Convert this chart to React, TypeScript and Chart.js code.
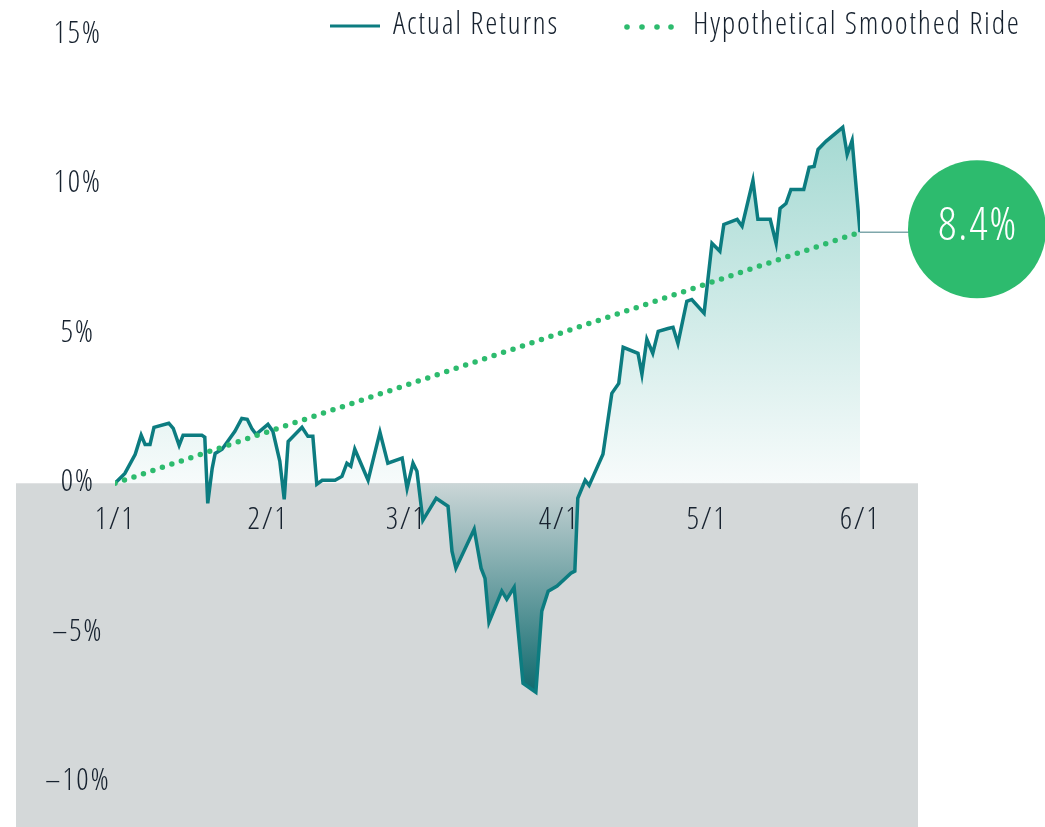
import React, { useEffect, useRef } from "react";
import { Chart, registerables } from "chart.js";

Chart.register(...registerables);

// ---- data ----
const DAYS = [
  0, 2.0, 4.1, 5.3, 6.1, 7.1, 7.9, 10.9, 11.8, 13.0, 13.8, 17.6, 18.2, 18.8, 19.7, 20.3, 21.7, 24.3,
  25.7, 26.8, 27.8, 28.6, 31.0, 32.0, 33.4, 34.3, 35.1, 37.9, 39.1, 40.1, 40.9, 42.0, 44.6, 46.0,
  47.0, 47.8, 48.6, 51.3, 53.7, 55.3, 58.2, 59.2, 60.4, 61.2, 62.4, 65.1, 67.5, 68.3, 69.1, 72.8,
  74.2, 75.0, 75.8, 78.4, 79.4, 80.9, 82.7, 85.3, 86.5, 87.8, 89.6, 92.4, 93.2, 93.8, 95.3, 96.1,
  98.9, 100.7, 102.1, 103.0, 106.0, 106.8, 107.8, 109.0, 110.1, 112.1, 113.1, 114.1, 115.9, 116.9,
  119.4, 121.0, 122.6, 123.4, 126.1, 127.1, 129.3, 130.3, 132.8, 134.0, 134.8, 136.0, 137.0, 139.6,
  140.7, 141.7, 142.5, 144.1, 147.5, 148.4, 149.4, 151,
];
const RETURNS = [
  0, 0.33, 0.97, 1.61, 1.3, 1.3, 1.87, 2.01, 1.84, 1.27, 1.61, 1.61, 1.54, -0.67, 0.5, 1.0, 1.14, 1.74,
  2.17, 2.14, 1.81, 1.64, 1.97, 1.74, 0.74, -0.54, 1.4, 1.87, 1.57, 1.57, -0.03, 0.1, 0.1, 0.23,
  0.67, 0.57, 1.14, 0.1, 1.71, 0.67, 0.84, -0.17, 0.67, 0.4, -1.24, -0.5, -0.77, -2.27, -2.84, -1.54,
  -2.84, -3.18, -4.65, -3.61, -3.88, -3.48, -6.69, -6.99, -4.28, -3.61, -3.44, -3.01, -2.94, -0.5, 0.1, -0.07,
  0.97, 3.01, 3.34, 4.55, 4.35, 3.65, 4.82, 4.35, 5.08, 5.18, 5.22, 4.68, 6.09, 6.15,
  5.69, 8.03, 7.76, 8.66, 8.83, 8.6, 10.13, 8.83, 8.83, 8.03, 9.2, 9.36, 9.83, 9.83,
  10.57, 10.6, 11.17, 11.44, 11.91, 11.0, 11.47, 8.4,
];
const SMOOTH_DAYS = [0, 151];
const SMOOTH_RETURNS = [0, 8.4];
const TICK_DAYS = [0, 31, 59, 90, 120, 151];
const TICK_LABELS = ["1/1", "2/1", "3/1", "4/1", "5/1", "6/1"];
const Y_TICKS = [-10, -5, 0, 5, 10, 15];
const SERIES_LABELS = ["Actual Returns", "Hypothetical Smoothed Ride"];
const END_LABEL = "8.4%";

// ---- styles ----
const FAMILY = "'Open Sans Condensed Light', 'Open Sans Condensed', 'Open Sans', sans-serif";
const WEIGHT = "condensed 300";
const TEXT = "#17222f";
const TEAL = "#0c7c80";
const GREEN = "#2dbb6e";
const GRAY_BG = "#d4d8d9";
const SPACING = "1.7px";

const overlayPlugin = {
  id: "overlay",
  beforeDraw(chart: any) {
    const { ctx, chartArea, scales } = chart;
    const y0 = scales.y.getPixelForValue(0);
    ctx.save();
    ctx.fillStyle = GRAY_BG;
    ctx.fillRect(16, y0, chartArea.right + 58 - 16, chartArea.bottom - y0 + 2);
    ctx.restore();
    (ctx as any).letterSpacing = SPACING;
  },
  afterDraw(chart: any) {
    const { ctx, chartArea, scales } = chart;
    const lastX = scales.x.getPixelForValue(SMOOTH_DAYS[SMOOTH_DAYS.length - 1]);
    const lastY = scales.y.getPixelForValue(SMOOTH_RETURNS[SMOOTH_RETURNS.length - 1]);
    const cx = chartArea.right + 117;
    const r = 69;
    ctx.save();
    (ctx as any).letterSpacing = SPACING;
    ctx.strokeStyle = "#7fa7ab";
    ctx.lineWidth = 1.5;
    ctx.beginPath();
    ctx.moveTo(lastX, lastY);
    ctx.lineTo(cx - r + 2, lastY);
    ctx.stroke();
    ctx.fillStyle = GREEN;
    ctx.beginPath();
    ctx.arc(cx, lastY - 3, r, 0, Math.PI * 2);
    ctx.fill();
    ctx.fillStyle = "#ffffff";
    ctx.font = `${WEIGHT} 46px ${FAMILY}`;
    ctx.textAlign = "center";
    ctx.textBaseline = "middle";
    ctx.fillText(END_LABEL, cx + 1, lastY - 4);

    const ly = 26;
    ctx.strokeStyle = TEAL;
    ctx.lineWidth = 3;
    ctx.lineCap = "butt";
    ctx.beginPath();
    ctx.moveTo(330, ly);
    ctx.lineTo(380, ly);
    ctx.stroke();
    ctx.fillStyle = GREEN;
    [627, 642, 657, 671].forEach((x) => {
      ctx.beginPath();
      ctx.arc(x, ly + 1, 2.8, 0, Math.PI * 2);
      ctx.fill();
    });
    ctx.fillStyle = TEXT;
    ctx.font = `${WEIGHT} 31px ${FAMILY}`;
    ctx.textAlign = "left";
    ctx.textBaseline = "middle";
    ctx.fillText(SERIES_LABELS[0], 393, ly);
    ctx.fillText(SERIES_LABELS[1], 693, ly);
    ctx.restore();
  },
};

let gradCache: any = null;
function areaFill(context: any) {
  const chart = context.chart;
  const { chartArea, scales } = chart;
  if (!chartArea || !scales.y) return "rgba(160,210,205,0.4)";
  const top = scales.y.getPixelForValue(12);
  const bottom = scales.y.getPixelForValue(-7);
  const zero = scales.y.getPixelForValue(0);
  const key = `${top}-${bottom}`;
  if (gradCache && gradCache.key === key) return gradCache.g;
  const g = chart.ctx.createLinearGradient(0, top, 0, bottom);
  const z = (zero - top) / (bottom - top);
  g.addColorStop(0, "#a4d9d2");
  g.addColorStop(z, "#f7fbfb");
  g.addColorStop(Math.min(1, z + 0.0001), "#cbd6d7");
  g.addColorStop(1, "#0f6a6e");
  gradCache = { key, g };
  return g;
}

export default function App() {
  const canvasRef = useRef<HTMLCanvasElement | null>(null);

  useEffect(() => {
    if (!canvasRef.current) return;
    const chart = new Chart(canvasRef.current, {
      type: "line",
      data: {
        datasets: [
          {
            label: SERIES_LABELS[1],
            data: SMOOTH_DAYS.map((d, i) => ({ x: d, y: SMOOTH_RETURNS[i] })),
            borderColor: GREEN,
            borderWidth: 5.5,
            borderDash: [0, 10],
            borderCapStyle: "round",
            pointRadius: 0,
            fill: false,
            order: 0,
          },
          {
            label: SERIES_LABELS[0],
            data: DAYS.map((d, i) => ({ x: d, y: RETURNS[i] })),
            borderColor: TEAL,
            borderWidth: 3.5,
            borderJoinStyle: "miter",
            pointRadius: 0,
            tension: 0,
            fill: { target: { value: 0 } },
            backgroundColor: areaFill,
            order: 1,
          },
        ],
      },
      options: {
        animation: false,
        responsive: true,
        maintainAspectRatio: false,
        layout: { padding: { top: 20, right: 185, bottom: 0, left: 0 } },
        plugins: { legend: { display: false }, tooltip: { enabled: false } },
        scales: {
          x: {
            type: "linear",
            min: 0,
            max: 151,
            position: { y: 0 } as any,
            grid: { display: false },
            border: { display: false },
            afterBuildTicks: (s: any) => {
              s.ticks = TICK_DAYS.map((v) => ({ value: v }));
            },
            ticks: {
              z: 1,
              autoSkip: false,
              maxRotation: 0,
              padding: 11,
              color: TEXT,
              font: { family: FAMILY, size: 31, weight: WEIGHT as any },
              callback: (v: any) => {
                const i = TICK_DAYS.indexOf(Number(v));
                return i >= 0 ? TICK_LABELS[i] : "";
              },
            },
          },
          y: {
            min: -11.5,
            max: 15.5,
            grid: { display: false },
            border: { display: false },
            afterBuildTicks: (s: any) => {
              s.ticks = Y_TICKS.map((v) => ({ value: v }));
            },
            afterFit: (s: any) => {
              s.width = 115;
              s.paddingTop = 0;
              s.paddingBottom = 0;
            },
            ticks: {
              crossAlign: "center",
              padding: 0,
              color: TEXT,
              font: { family: FAMILY, size: 31, weight: WEIGHT as any },
              callback: (v: any) => (Number(v) < 0 ? "\u2013" + Math.abs(Number(v)) + "%" : v + "%"),
            },
          },
        },
      },
      plugins: [overlayPlugin],
    });
    return () => chart.destroy();
  }, []);

  return (
    <div style={{ position: "fixed", left: 0, top: 0, width: 1045, height: 827, background: "#fff" }}>
      <canvas ref={canvasRef} />
    </div>
  );
}
